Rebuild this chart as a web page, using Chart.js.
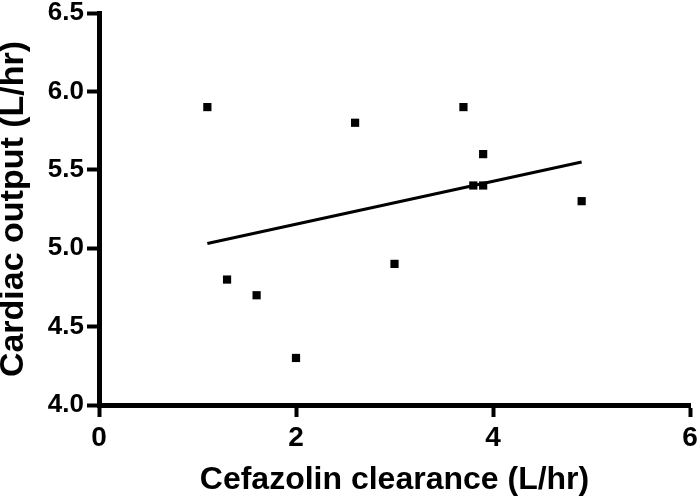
<!DOCTYPE html>
<html>
<head>
<meta charset="utf-8">
<script src="https://cdn.jsdelivr.net/npm/chart.js@4.4.1/dist/chart.umd.min.js"></script>
<style>
html,body{margin:0;padding:0;background:#fff;}
#wrap{width:700px;height:499px;}
</style>
</head>
<body>
<div id="wrap"><canvas id="c" width="700" height="499"></canvas></div>
<script>
// Data
const clearance = [1.1, 1.3, 1.6, 2.0, 2.6, 3.0, 3.7, 3.8, 3.9, 3.9, 4.9];
const cardiacOutput = [5.9, 4.8, 4.7, 4.3, 5.8, 4.9, 5.9, 5.4, 5.6, 5.4, 5.3];
const fitX = [1.1, 4.9];
const fitY = [5.03, 5.55];
const xTitle = 'Cefazolin clearance (L/hr)';
const yTitle = 'Cardiac output (L/hr)';

const FONT = '"Liberation Sans", Arial, sans-serif';

new Chart(document.getElementById('c'), {
  type: 'scatter',
  data: {
    datasets: [
      {
        data: clearance.map((x, i) => ({x: x, y: cardiacOutput[i]})),
        pointStyle: 'rect',
        pointRadius: 5.8,
        pointBackgroundColor: '#000',
        pointBorderWidth: 0,
        showLine: false
      },
      {
        data: fitX.map((x, i) => ({x: x, y: fitY[i]})),
        showLine: true,
        borderColor: '#000',
        borderWidth: 3,
        pointRadius: 0,
        fill: false
      }
    ]
  },
  options: {
    responsive: false,
    animation: false,
    events: [],
    layout: {padding: {top: 13, right: 10, bottom: 0, left: 0}},
    plugins: {legend: {display: false}, tooltip: {enabled: false}},
    scales: {
      x: {
        type: 'linear',
        min: 0, max: 6,
        ticks: {stepSize: 2, color: '#000', padding: 4, font: {family: FONT, size: 28, weight: 'bold'}},
        grid: {drawOnChartArea: false, drawTicks: true, tickLength: 12, tickWidth: 4, tickColor: '#000'},
        border: {display: true, color: '#000', width: 5},
        title: {display: true, text: xTitle, color: '#000', font: {family: FONT, size: 32, weight: 'bold', lineHeight: 1.2}, padding: {top: 0, bottom: 0}},
        afterFit: (s) => { s.height = 94; s.paddingLeft = 0; s.paddingRight = 0; }
      },
      y: {
        type: 'linear',
        min: 4.0, max: 6.5,
        ticks: {stepSize: 0.5, color: '#000', padding: 3, font: {family: FONT, size: 26, weight: 'bold'}, callback: (v) => v.toFixed(1)},
        grid: {drawOnChartArea: false, drawTicks: true, tickLength: 12, tickWidth: 4, tickColor: '#000'},
        border: {display: true, color: '#000', width: 5},
        title: {display: true, text: yTitle, color: '#000', font: {family: FONT, size: 34, weight: 'bold', lineHeight: 0.8}, padding: {top: 0, bottom: 0}},
        afterFit: (s) => { s.width = 99; s.paddingTop = 0; s.paddingBottom = 0; }
      }
    }
  }
});
</script>
</body>
</html>
